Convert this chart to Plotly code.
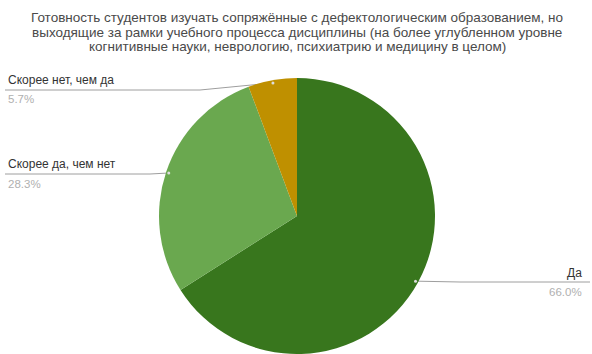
import math
import plotly.graph_objects as go

# Survey answers and their shares (%)
labels = ["Да", "Скорее да, чем нет", "Скорее нет, чем да"]
values = [66.0, 28.3, 5.7]
colors = ["#38761d", "#6aa84f", "#bf9000"]

title_lines = [
    "Готовность студентов изучать сопряжённые с дефектологическим образованием, но",
    "выходящие за рамки учебного процесса дисциплины (на более углубленном уровне",
    "когнитивные науки, неврологию, психиатрию и медицину в целом)",
]

W, H = 592, 354
CX, CY, R = 297, 216, 138  # pie centre and radius in pixels


def px(x):
    return x / W


def py(y):
    return 1 - y / H


fig = go.Figure(
    go.Pie(
        labels=labels,
        values=values,
        sort=False,
        direction="clockwise",
        rotation=0,
        marker=dict(colors=colors, line=dict(width=0)),
        textinfo="none",
        hoverinfo="label+percent",
        showlegend=False,
        domain=dict(x=[px(CX - R), px(CX + R)], y=[py(CY + R), py(CY - R)]),
    )
)


def anchor(i, frac=0.98):
    """Point inside slice i, along its middle angle."""
    total = sum(values)
    start = sum(values[:i]) / total
    mid = (start + values[i] / total / 2) * 2 * math.pi
    return CX + frac * R * math.sin(mid), CY - frac * R * math.cos(mid)


shapes = []
annotations = []
line_col = "#9e9e9e"
label_font = dict(family="Liberation Sans, Arial", size=12, color="#333333")
pct_font = dict(family="Liberation Sans, Arial", size=11.5, color="#b0b0b0")

# label placement: (index, side, line y, x range of horizontal segment)
placements = [
    (2, "left", 90, 5, 200),
    (1, "left", 174, 5, 150),
    (0, "right", 282, 460, 590),
]

for i, side, ly, x0, x1 in placements:
    ax, ay = anchor(i)
    if side == "left":
        path = f"M {px(x0)} {py(ly)} L {px(x1)} {py(ly)} L {px(ax)} {py(ay)}"
        tx, xanchor = x0 + 1, "left"
    else:
        path = f"M {px(ax)} {py(ay)} L {px(x0)} {py(ly)} L {px(x1)} {py(ly)}"
        tx, xanchor = x1 - 6, "right"
    shapes.append(dict(type="path", path=path, xref="paper", yref="paper",
                       line=dict(color=line_col, width=1), layer="below"))
    shapes.append(dict(type="circle", xref="paper", yref="paper",
                       x0=px(ax - 1.5), x1=px(ax + 1.5), y0=py(ay + 1.5), y1=py(ay - 1.5),
                       fillcolor="#dddddd", line=dict(width=0), layer="above"))
    annotations.append(dict(text=labels[i], x=px(tx), y=py(ly - 0.5), xref="paper", yref="paper",
                            xanchor=xanchor, yanchor="bottom", showarrow=False, font=label_font))
    annotations.append(dict(text=f"{values[i]:.1f}%", x=px(tx), y=py(ly + 1.5), xref="paper",
                            yref="paper", xanchor=xanchor, yanchor="top", showarrow=False,
                            font=pct_font))

# three-line centred title
for k, line in enumerate(title_lines):
    annotations.append(dict(text=line, x=px(297), y=py(18 + 14.5 * k), xref="paper", yref="paper",
                            xanchor="center", yanchor="middle", showarrow=False,
                            font=dict(family="Liberation Sans, Arial", size=13.5, color="#4a4a4a")))

fig.update_layout(
    width=W,
    height=H,
    margin=dict(l=0, r=0, t=0, b=0),
    paper_bgcolor="white",
    plot_bgcolor="white",
    shapes=shapes,
    annotations=annotations,
)

fig.write_html("out.html", config={"displayModeBar": False})
